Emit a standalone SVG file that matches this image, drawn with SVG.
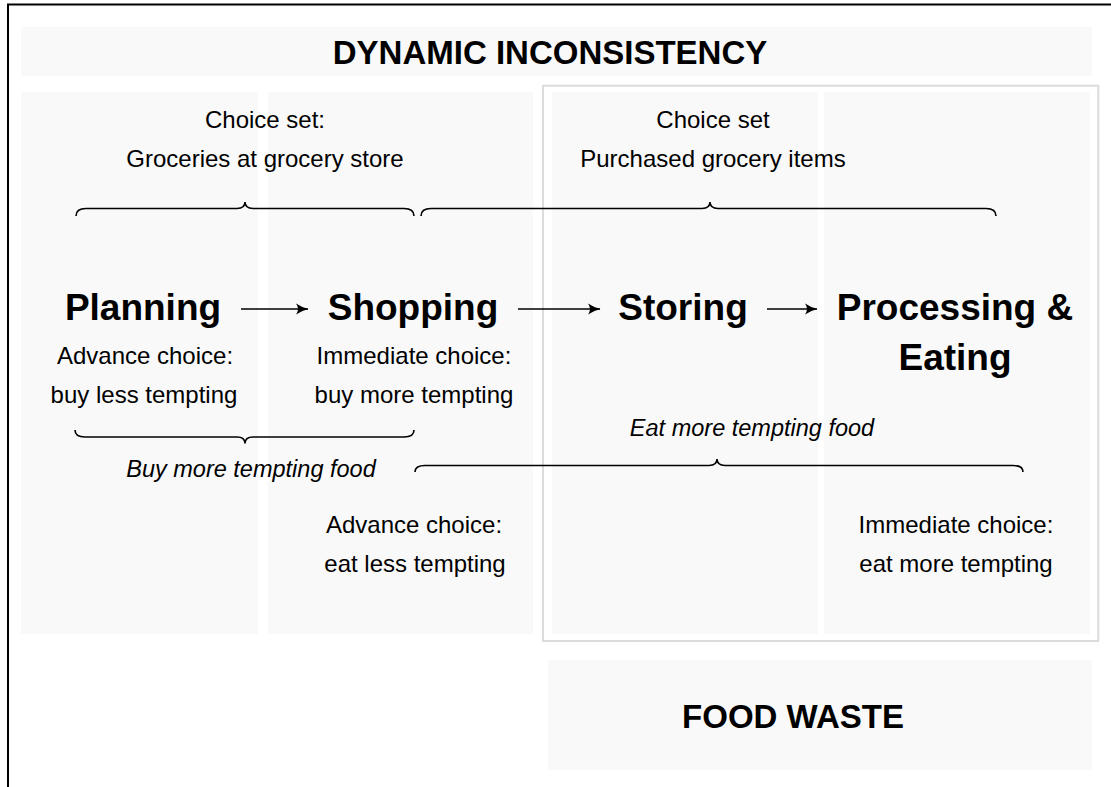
<svg xmlns="http://www.w3.org/2000/svg" width="1111" height="787" viewBox="0 0 1111 787">
<style>
text{font-family:"Liberation Sans",Arial,Helvetica,sans-serif;fill:#000;text-anchor:middle}
.panel{fill:#f9f9f9}
.h{font-size:37px;font-weight:bold}
.t{font-size:33px;font-weight:bold}
.r{font-size:24px}
.i{font-size:23.5px;font-style:italic}
.brace{fill:none;stroke:#000;stroke-width:1.6}
.arrow{fill:none;stroke:#000;stroke-width:1.6;marker-end:url(#ah)}
</style>
<defs>
<marker id="ah" viewBox="0 0 13 12" refX="12" refY="6" markerWidth="13" markerHeight="12" markerUnits="userSpaceOnUse" orient="auto">
<path d="M0,0.5 Q6,4.5 12.5,6 Q6,7.5 0,11.5 Q4,6 0,0.5 z" fill="#000"/>
</marker>
</defs>
<rect width="1111" height="787" fill="#fff"/>
<path d="M8,787 V4.5 H1111" fill="none" stroke="#000" stroke-width="2"/>

<g id="title">
<rect class="panel" x="21" y="27" width="1071" height="49"/>
<text class="t" x="550" y="64">DYNAMIC INCONSISTENCY</text>
</g>

<g id="panels">
<rect class="panel" x="21" y="92" width="237" height="542"/>
<rect class="panel" x="268" y="92" width="265" height="542"/>
<rect x="543" y="85.7" width="555.3" height="555.3" fill="none" stroke="#dcdcdc" stroke-width="2"/>
<rect class="panel" x="552" y="92" width="266" height="542"/>
<rect class="panel" x="824" y="92" width="266" height="542"/>
</g>

<g id="choice-set-left">
<text class="r" x="265" y="128">Choice set:</text>
<text class="r" x="265" y="167">Groceries at grocery store</text>
</g>
<g id="choice-set-right">
<text class="r" x="713" y="128">Choice set</text>
<text class="r" x="713" y="167">Purchased grocery items</text>
</g>

<g id="planning"><text class="h" x="143" y="320">Planning</text></g>
<g id="shopping"><text class="h" x="413" y="320">Shopping</text></g>
<g id="storing"><text class="h" x="683" y="320">Storing</text></g>
<g id="processing-eating">
<text class="h" x="955" y="320">Processing &amp;</text>
<text class="h" x="955" y="370">Eating</text>
</g>

<g id="connectors">
<path class="arrow" d="M241,309 H308"/>
<path class="arrow" d="M518,309 H600"/>
<path class="arrow" d="M767,309 H817"/>
</g>

<g id="braces">
<path class="brace" d="M76,216 Q76,208.5 86,208.5 H237 Q245,208.5 245,202 Q245,208.5 253,208.5 H404 Q414,208.5 414,216"/>
<path class="brace" d="M421,216 Q421,208.5 431,208.5 H702 Q710,208.5 710,202 Q710,208.5 718,208.5 H986 Q996,208.5 996,216"/>
<path class="brace" d="M75,430 Q75,437 85,437 H237 Q245,437 245,443.5 Q245,437 253,437 H404 Q414,437 414,430"/>
<path class="brace" d="M415,472 Q415,465.5 425,465.5 H709 Q717,465.5 717,459 Q717,465.5 725,465.5 H1013 Q1023,465.5 1023,472"/>
</g>

<g id="label-planning">
<text class="r" x="145" y="364">Advance choice:</text>
<text class="r" x="144" y="403">buy less tempting</text>
</g>
<g id="label-shopping">
<text class="r" x="414" y="364">Immediate choice:</text>
<text class="r" x="414" y="403">buy more tempting</text>
</g>
<g id="label-buy"><text class="i" x="251" y="477">Buy more tempting food</text></g>
<g id="label-eat"><text class="i" x="752" y="436">Eat more tempting food</text></g>
<g id="label-advance-eat">
<text class="r" x="414" y="533">Advance choice:</text>
<text class="r" x="415" y="572">eat less tempting</text>
</g>
<g id="label-immediate-eat">
<text class="r" x="956" y="533">Immediate choice:</text>
<text class="r" x="956" y="572">eat more tempting</text>
</g>

<g id="food-waste">
<rect class="panel" x="548" y="660" width="544" height="110"/>
<text class="t" x="793" y="728">FOOD WASTE</text>
</g>
</svg>
